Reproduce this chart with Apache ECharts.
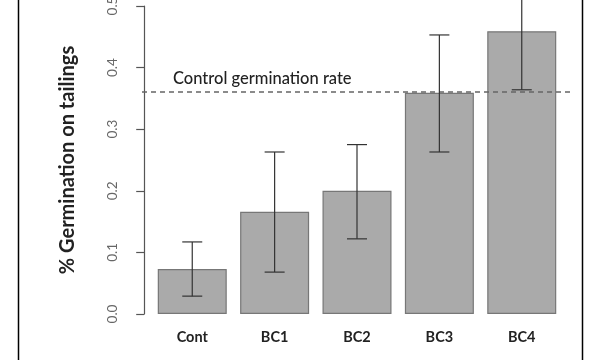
<!DOCTYPE html>
<html>
<head>
<meta charset="utf-8">
<script src="https://cdn.jsdelivr.net/npm/echarts@6/dist/echarts.min.js"></script>
<style>
html,body{margin:0;padding:0;background:#fff;}
#chart{width:600px;height:360px;}
</style>
</head>
<body>
<div id="chart"></div>
<script>
const categories = ['Cont', 'BC1', 'BC2', 'BC3', 'BC4'];
const means = [0.073, 0.166, 0.200, 0.359, 0.459];
const errLow = [0.029, 0.068, 0.122, 0.263, 0.364];
const errHigh = [0.117, 0.263, 0.275, 0.453, 0.554];
const controlRate = 0.365;

// R barplot positions: width 1, space 0.2
const centers = categories.map((c, i) => 0.7 + 1.2 * i);
const xMin = -0.032, xMax = 6.232;

const chart = echarts.init(document.getElementById('chart'));
const font = 'Lato, "Open Sans", sans-serif';

chart.setOption({
  animation: false,
  backgroundColor: '#ffffff',
  grid: { left: 142, right: 28, top: 6, bottom: 46, containLabel: false, outerBoundsMode: 'none' },
  xAxis: {
    type: 'value', min: xMin, max: xMax,
    axisLine: { show: false }, axisTick: { show: false }, splitLine: { show: false },
    axisLabel: {
      customValues: centers,
      formatter: v => { const i = centers.findIndex(c => Math.abs(c - v) < 1e-6); return i >= 0 ? categories[i] : ''; },
      color: '#222', fontFamily: font, fontWeight: 'bold', fontSize: 14.5, margin: 16
    }
  },
  yAxis: {
    type: 'value', min: 0, max: 0.5, interval: 0.1,
    name: '% Germination on tailings', nameLocation: 'middle', nameRotate: 90, nameGap: 64,
    nameTextStyle: { color: '#222', fontFamily: font, fontWeight: 'bold', fontSize: 20 },
    axisLine: { show: true, lineStyle: { color: '#555', width: 1.2 } },
    axisTick: { show: true, length: 8, lineStyle: { color: '#555', width: 1.2 } },
    splitLine: { show: false },
    axisLabel: {
      rotate: 90, margin: 22, color: '#666', fontFamily: font, fontSize: 13.5,
      formatter: v => v.toFixed(1)
    }
  },
  series: [
    {
      type: 'bar', barWidth: 69,
      data: means.map((m, i) => [centers[i], m]),
      itemStyle: { color: '#aaaaaa', borderColor: '#777', borderWidth: 1.2 },
      markLine: {
        silent: true, symbol: 'none',
        lineStyle: { type: [5, 4], color: '#666', width: 1.5 },
        label: { show: false },
        data: [{ yAxis: controlRate }]
      }
    },
    {
      type: 'custom', clip: false, z: 5,
      data: centers.map((c, i) => [c, errLow[i], errHigh[i]]),
      renderItem: (params, api) => {
        const lo = api.coord([api.value(0), api.value(1)]);
        const hi = api.coord([api.value(0), api.value(2)]);
        const hw = 10;
        const st = { stroke: '#333', lineWidth: 1.2 };
        return { type: 'group', children: [
          { type: 'line', shape: { x1: lo[0], y1: lo[1], x2: hi[0], y2: hi[1] }, style: st },
          { type: 'line', shape: { x1: lo[0] - hw, y1: lo[1], x2: lo[0] + hw, y2: lo[1] }, style: st },
          { type: 'line', shape: { x1: hi[0] - hw, y1: hi[1], x2: hi[0] + hw, y2: hi[1] }, style: st }
        ]};
      }
    }
  ],
  graphic: [
    { type: 'line', shape: { x1: 18.5, y1: 0, x2: 18.5, y2: 360 }, style: { stroke: '#000', lineWidth: 1.5 } },
    { type: 'line', shape: { x1: 582.5, y1: 0, x2: 582.5, y2: 360 }, style: { stroke: '#000', lineWidth: 1.5 } },
    { type: 'text', left: 173, top: 70, style: { text: 'Control germination rate', fill: '#222', font: '500 16.5px ' + font } }
  ]
});
</script>
</body>
</html>
